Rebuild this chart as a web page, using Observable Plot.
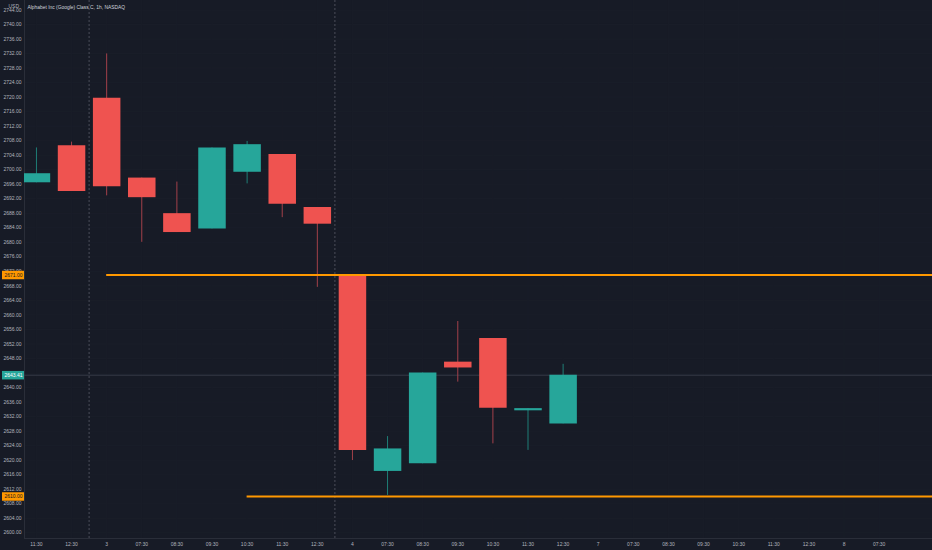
<!DOCTYPE html>
<html>
<head>
<meta charset="utf-8">
<script src="https://cdn.jsdelivr.net/npm/d3@7"></script>
<script src="https://cdn.jsdelivr.net/npm/@observablehq/plot@0.6"></script>
<style>
  html, body { margin: 0; padding: 0; background: #171b26; }
  #chart svg { display: block; }
</style>
</head>
<body>
<div id="chart"></div>
<script>
// ---- data ----
const title = "Alphabet Inc (Google) Class C, 1h, NASDAQ";
const currency = "USD";
const slotLabels = ["11:30","12:30","3","07:30","08:30","09:30","10:30","11:30","12:30","4","07:30","08:30","09:30","10:30","11:30","12:30","7","07:30","08:30","09:30","10:30","11:30","12:30","8","07:30"];
const opens  = [2696.4, 2706.6, 2719.7, 2697.7, 2687.9, 2683.7, 2699.3, 2704.2, 2689.6, 2671.0, 2616.9, 2619.0, 2647.0, 2653.5, 2633.6, 2630.0];
const highs  = [2706.0, 2707.6, 2731.9, 2697.7, 2696.6, 2706.0, 2707.8, 2704.2, 2689.6, 2671.0, 2626.5, 2644.0, 2658.2, 2653.5, 2634.2, 2646.4];
const lows   = [2696.4, 2694.0, 2692.8, 2680.0, 2682.7, 2683.7, 2696.1, 2686.8, 2667.6, 2619.9, 2610.3, 2619.0, 2641.5, 2624.5, 2622.7, 2630.0];
const closes = [2698.9, 2694.0, 2695.3, 2692.3, 2682.7, 2706.0, 2706.9, 2690.5, 2685.0, 2622.7, 2623.1, 2644.0, 2645.4, 2634.3, 2634.2, 2643.41];
const dayBreaks = [1.5, 8.5];               // session separators between slots
const levelPrices = [2671.00, 2610.00];     // horizontal levels
const levelStarts = [2, 6];                 // slot where each level begins
const lastPrice = 2643.41;
const yTicks = d3.range(2600, 2745, 4);

// ---- build tables ----
const candles = opens.map((o, i) => ({i, open: o, high: highs[i], low: lows[i], close: closes[i], up: closes[i] >= o}));
const levels = levelPrices.map((p, k) => ({price: p, start: levelStarts[k]}));
const tags = [
  {price: levelPrices[0], label: levelPrices[0].toFixed(2), bg: "#ff9800", fg: "#131722"},
  {price: lastPrice, label: lastPrice.toFixed(2), bg: "#26a69a", fg: "#ffffff"},
  {price: levelPrices[1], label: levelPrices[1].toFixed(2), bg: "#ff9800", fg: "#131722"}
];

const UP = "#26a69a", DOWN = "#ef5350";
const W = 932, H = 550, ML = 24, MB = 12;
const font = "'Liberation Sans', Arial, sans-serif";

const chart = Plot.plot({
  width: W, height: H,
  marginLeft: ML, marginRight: 0, marginTop: 0, marginBottom: MB,
  style: {background: "#171b26", color: "#b2b5be", fontFamily: font},
  x: {type: "linear", domain: [-0.34, 25.52]},
  y: {domain: [2598.43, 2746.61]},
  marks: [
    // faint grid
    Plot.ruleY(yTicks, {stroke: "#1a1e29", strokeWidth: 1}),
    Plot.ruleX(d3.range(slotLabels.length), {stroke: "#191d28", strokeWidth: 1}),
    // axis borders
    Plot.ruleX([-0.34], {stroke: "#2a2e39"}),
    Plot.ruleY([2598.43], {stroke: "#2a2e39"}),
    // session separators
    Plot.ruleX(dayBreaks, {stroke: "#4a4e5a", strokeDasharray: "2,2", strokeWidth: 1}),
    // last price line
    Plot.ruleY([lastPrice], {stroke: "#363b47", strokeWidth: 1}),
    // wicks
    Plot.ruleX(candles, {x: "i", y1: "low", y2: "high", stroke: d => d.up ? "#1f7f77" : "#a3414a", strokeWidth: 1, clip: true}),
    // bodies
    Plot.ruleX(candles, {x: "i", y1: "open", y2: "close", stroke: d => d.up ? UP : DOWN, strokeWidth: 27.5, clip: true}),
    // levels
    Plot.ruleY(levels, {y: "price", x1: "start", x2: 25.52, stroke: "#ff9800", strokeWidth: 2}),
    // axes
    Plot.axisY({ticks: yTicks, tickFormat: d => d.toFixed(2), tickSize: 0, tickPadding: 3, fontSize: 5, fill: "#b2b5be", label: null}),
    Plot.axisX({ticks: d3.range(slotLabels.length), tickFormat: i => slotLabels[i], tickSize: 0, tickPadding: 4, fontSize: 5, fill: "#b2b5be", label: null}),
    // price tags
    Plot.ruleY(tags, {y: "price", stroke: "bg", strokeWidth: 8.5, insetLeft: -22, insetRight: W - ML}),
    Plot.text(tags, {y: "price", text: "label", fill: "fg", frameAnchor: "left", textAnchor: "start", dx: -20, fontSize: 5}),
    // currency and title
    Plot.text([currency], {frameAnchor: "top-left", dx: -16, dy: 4, fontSize: 5, fill: "#b2b5be", textAnchor: "start"}),
    Plot.text([title], {frameAnchor: "top-left", dx: 3, dy: 5, fontSize: 4.9, fill: "#d1d4dc", textAnchor: "start"})
  ]
});
document.getElementById("chart").append(chart);
</script>
</body>
</html>
